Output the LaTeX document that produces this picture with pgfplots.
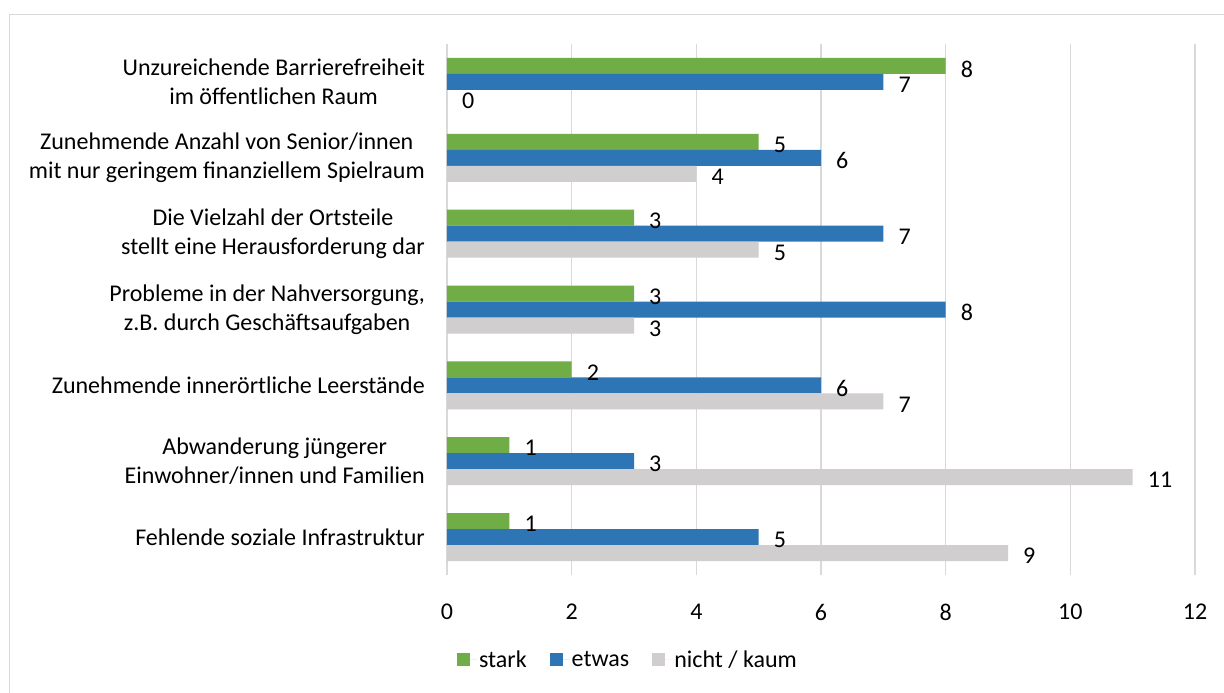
\documentclass[border=0pt]{standalone}
\usepackage{fontspec}
\setmainfont{Carlito}
\usepackage{pgfplots}
\pgfplotsset{compat=1.18}
\definecolor{cgreen}{HTML}{70AD47}
\definecolor{cblue}{HTML}{2E75B6}
\definecolor{cgray}{HTML}{D0CECE}
\definecolor{cgrid}{HTML}{D9D9D9}
\newcommand{\lf}{\fontsize{24}{29}\selectfont}
\begin{document}
\begin{tikzpicture}
\useasboundingbox (0,0) rectangle (1224pt,693pt);
\fill[white] (0,0) rectangle (1224pt,693pt);
\draw[cgrid, line width=1.5pt] (9.5pt,-10pt) -- (9.5pt,678.5pt) -- (1240pt,678.5pt);
\begin{axis}[
  at={(447pt,118pt)}, anchor=south west,
  scale only axis, width=748pt, height=531pt,
  xbar=0pt, bar width=16pt,
  xmin=0, xmax=12, xtick={0,2,...,12},
  ymin=-0.5, ymax=6.5, y dir=reverse,
  ytick={0,...,6},
  yticklabels={{Unzureichende Barrierefreiheit\\im öffentlichen Raum},
    {Zunehmende Anzahl von Senior/innen\\mit nur geringem finanziellem Spielraum},
    {Die Vielzahl der Ortsteile\\stellt eine Herausforderung dar},
    {Probleme in der Nahversorgung,\\z.B. durch Geschäftsaufgaben},
    {Zunehmende innerörtliche Leerstände},
    {Abwanderung jüngerer\\Einwohner/innen und Familien},
    {Fehlende soziale Infrastruktur}},
  yticklabel style={align=center, font=\lf, inner sep=0pt, xshift=-22pt},
  xticklabel style={font=\lf, inner sep=0pt, yshift=-29pt},
  /pgf/number format/assume math mode=true,
  major tick length=0pt,
  axis line style={draw=none},
  xmajorgrids, grid style={cgrid, line width=1.3pt},
  nodes near coords,
  every node near coord/.append style={font=\lf, anchor=west, inner sep=0pt, xshift=15pt, yshift=-3pt, text=black},
  legend columns=-1,
  legend style={at={(0.242,-0.160)}, anchor=center, draw=none, font=\lf,
    /tikz/every even column/.append style={column sep=21pt}},
  legend image code/.code={\fill[#1] (0pt,-6.5pt) rectangle (13pt,6.5pt); \path (13pt,0pt) -- (20pt,0pt);},
]
\addplot[fill=cgreen, draw=none, bar shift=16pt] coordinates {(8,0) (5,1) (3,2) (3,3) (2,4) (1,5) (1,6)};
\addplot[fill=cblue, draw=none, bar shift=0pt] coordinates {(7,0) (6,1) (7,2) (8,3) (6,4) (3,5) (5,6)};
\addplot[fill=cgray, draw=none, bar shift=-16pt] coordinates {(0,0) (4,1) (5,2) (3,3) (7,4) (11,5) (9,6)};
\legend{stark, etwas, nicht / kaum}
\end{axis}
\end{tikzpicture}
\end{document}
